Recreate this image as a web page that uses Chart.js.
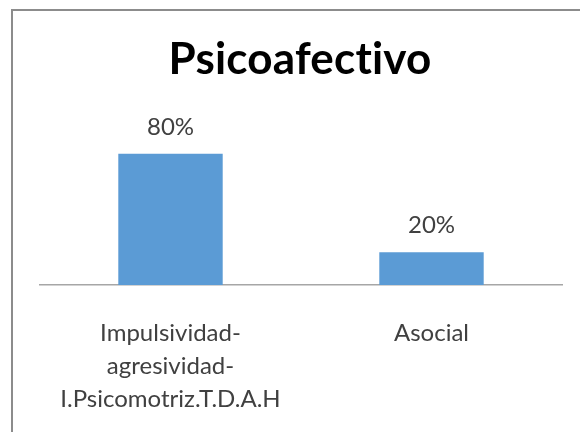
<!DOCTYPE html>
<html>
<head>
<meta charset="utf-8">
<script src="https://cdn.jsdelivr.net/npm/chart.js@4.4.0/dist/chart.umd.min.js"></script>
<style>
  html, body { margin:0; padding:0; background:#fff; }
  #wrap { width:580px; height:432px; position:relative; }
</style>
</head>
<body>
<div id="wrap"><canvas id="chart" width="580" height="432"></canvas></div>
<script>
// datos
const categorias = [
  ['Impulsividad-', 'agresividad-', 'I.Psicomotriz.T.D.A.H'],
  ['Asocial']
];
const porcentajes = [80, 20];
const titulo = 'Psicoafectivo';

const FONT = 'Lato, "Open Sans", "DejaVu Sans", sans-serif';

// marco gris + titulo
const marco = {
  id:'marco',
  beforeDraw(chart){
    const c = chart.ctx;
    c.save();
    c.strokeStyle = '#8c8c8c';
    c.lineWidth = 2;
    c.strokeRect(12, 10, 600, 460);
    c.fillStyle = '#000';
    c.font = 'bold 44px ' + FONT;
    c.textAlign = 'center';
    c.textBaseline = 'alphabetic';
    if('letterSpacing' in c) c.letterSpacing = '0.2px'; // evita la ligadura "ti"
    c.fillText(titulo, 300, 74);
    c.restore();
  }
};

// etiquetas de valor sobre cada barra
const etiquetas = {
  id:'etiquetas',
  afterDatasetsDraw(chart){
    const c = chart.ctx;
    const meta = chart.getDatasetMeta(0);
    c.save();
    c.fillStyle = '#404040';
    c.font = '24px ' + FONT;
    c.textAlign = 'center';
    c.textBaseline = 'alphabetic';
    meta.data.forEach((bar, i) => {
      c.fillText(porcentajes[i] + '%', bar.x, bar.y - 19);
    });
    c.restore();
  }
};

new Chart(document.getElementById('chart'), {
  type:'bar',
  data:{
    labels: categorias,
    datasets:[{
      data: porcentajes,
      backgroundColor:'#5b9bd5',
      borderWidth:0,
      categoryPercentage:0.4,
      barPercentage:1
    }]
  },
  options:{
    responsive:false,
    animation:false,
    layout:{ padding:{ top:121, left:40, right:18, bottom:0 } },
    plugins:{ legend:{ display:false }, tooltip:{ enabled:false }, title:{ display:false } },
    scales:{
      y:{ display:false, min:0, max:100 },
      x:{
        grid:{ display:false },
        border:{ display:true, color:'#a6a6a6', width:1.5 },
        ticks:{
          color:'#404040',
          font:{ family:FONT, size:24, lineHeight:'33px' },
          maxRotation:0, autoSkip:false, padding:24
        },
        afterFit(scale){ scale.height = 147; }
      }
    }
  },
  plugins:[marco, etiquetas]
});
</script>
</body>
</html>
